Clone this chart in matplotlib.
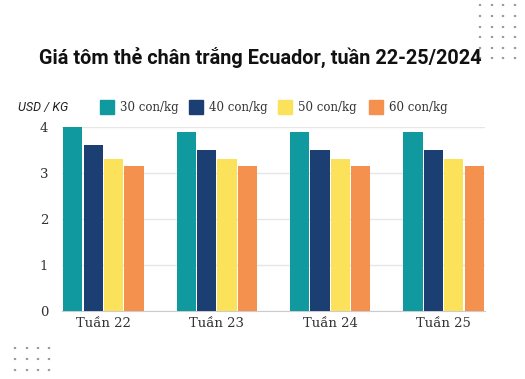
import matplotlib
matplotlib.use("Agg")
import matplotlib.pyplot as plt
import numpy as np

# du lieu
tuan = ["Tuần 22", "Tuần 23", "Tuần 24", "Tuần 25"]
nhom = ["30 con/kg", "40 con/kg", "50 con/kg", "60 con/kg"]
gia_30 = [4.0, 3.9, 3.9, 3.9]
gia_40 = [3.6, 3.5, 3.5, 3.5]
gia_50 = [3.3, 3.3, 3.3, 3.3]
gia_60 = [3.15, 3.15, 3.15, 3.15]
mau = ["#10999e", "#1c3f73", "#fbe25a", "#f5914e"]

W, H = 525, 379
fig = plt.figure(figsize=(W / 100, H / 100), dpi=100)
ax = fig.add_axes([62 / W, 1 - 311 / H, (485 - 62) / W, (311 - 127) / H])

x = np.arange(len(tuan))
bw = 0.18
for i, vals in enumerate([gia_30, gia_40, gia_50, gia_60]):
    ax.bar(x + (i - 1.5) * bw, vals, width=bw - 0.01, color=mau[i], zorder=3)

ax.set_xlim(-0.365, 3.365)
ax.set_ylim(0, 4)
ax.set_yticks([0, 1, 2, 3, 4])
ax.set_xticks(x)
ax.set_xticklabels(tuan, family="DejaVu Serif", fontsize=9.5, color="#333333")
for t in ax.get_yticklabels():
    t.set_family("DejaVu Serif")
    t.set_fontsize(9.5)
    t.set_color("#333333")
ax.tick_params(length=0, pad=4)
ax.tick_params(axis="y", pad=10)
ax.grid(axis="y", color="#e6e6e6", lw=1, zorder=0)
for s in ["top", "right", "left"]:
    ax.spines[s].set_visible(False)
ax.spines["bottom"].set_color("#cccccc")

# tieu de
fig.text(260.5 / W, 1 - 57 / H, "Giá tôm thẻ chân trắng Ecuador, tuần 22-25/2024",
         ha="center", va="center", family="Roboto", weight="bold", fontsize=14.3, color="#111111")
fig.text(18 / W, 1 - 108 / H, "USD / KG", ha="left", va="center",
         family="Roboto", style="italic", fontsize=9, color="#222222")

# chu thich
lx = [100, 189, 278, 369]
for i in range(4):
    fig.patches.append(plt.Rectangle((lx[i] / W, 1 - 114 / H), 14 / W, 14 / H,
                                     transform=fig.transFigure, color=mau[i]))
    fig.text((lx[i] + 20) / W, 1 - 107.5 / H, nhom[i], ha="left", va="center",
             family="DejaVu Serif", fontsize=8.5, color="#333333")

# cham trang tri
for px in [480, 492, 503, 515]:
    for py in [5, 16, 27, 37, 48, 58]:
        fig.patches.append(plt.Circle((px / W, 1 - py / H), 0.6 / W,
                                      transform=fig.transFigure, color="#999999"))
for px in [15, 27, 38, 49]:
    for py in [348, 359, 370]:
        fig.patches.append(plt.Circle((px / W, 1 - py / H), 0.6 / W,
                                      transform=fig.transFigure, color="#999999"))

fig.savefig("out.png", dpi=100)
